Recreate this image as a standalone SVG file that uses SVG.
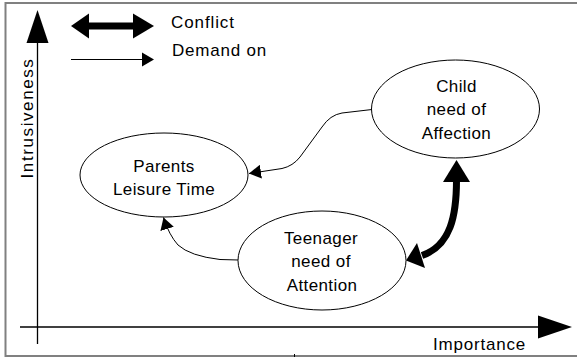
<svg xmlns="http://www.w3.org/2000/svg" width="577" height="359" viewBox="0 0 577 359">
<style>
text{font-family:"Liberation Sans",Arial,sans-serif;font-size:17px;fill:#000;letter-spacing:0.4px}
.lbl{text-anchor:middle}
.node ellipse{fill:#fff;stroke:#000;stroke-width:1}
.thin{fill:none;stroke:#000;stroke-width:1}
.axis{fill:none;stroke:#000;stroke-width:1.3}
</style>
<defs>
<marker id="ah" viewBox="0 0 12 14" refX="12" refY="7" markerWidth="12" markerHeight="14" markerUnits="userSpaceOnUse" orient="auto">
<path d="M0,0 L12,7 L0,14 Z" fill="#000"/>
</marker>
</defs>
<rect x="5.5" y="3" width="580" height="353" fill="#fff" stroke="#808080" stroke-width="2"/>
<line x1="294.5" y1="354" x2="294.5" y2="357" stroke="#000" stroke-width="1"/>
<g id="axes">
<line class="axis" x1="37.5" y1="344" x2="37.5" y2="42"/>
<polygon points="37.5,10 26.5,43 48.5,43" fill="#000"/>
<line class="axis" x1="20" y1="327" x2="539" y2="327"/>
<polygon points="572,327 538,315.5 538,338.5" fill="#000"/>
<text x="33" y="118" class="lbl" transform="rotate(-90 33 118)" style="letter-spacing:1.6px">Intrusiveness</text>
<text x="433" y="350" style="letter-spacing:0.8px">Importance</text>
</g>
<g id="legend">
<rect x="86" y="22.5" width="50" height="7" fill="#000"/>
<polygon points="71,26 89,13.5 89,38.5" fill="#000"/>
<polygon points="154,26 133,13.5 133,38.5" fill="#000"/>
<text x="171" y="28" style="letter-spacing:0.9px">Conflict</text>
<line class="thin" x1="71" y1="59.5" x2="143" y2="59.5"/>
<polygon points="154,59.5 142,52.5 142,66.5" fill="#000"/>
<text x="172" y="56" style="letter-spacing:0.8px">Demand on</text>
</g>
<g id="connectors">
<path class="thin" d="M372,109.5 L342,113 Q330,115 322,127 L300,157 Q293,166 282,168.5 L249,173.5" marker-end="url(#ah)"/>
<path class="thin" d="M238.5,260 L220,259.5 Q190,256 178,245 Q169,235 163.5,217.5" marker-end="url(#ah)"/>
<path d="M456.5,180 C456.5,215 451,245.5 422,255.5" fill="none" stroke="#000" stroke-width="7"/>
<polygon points="456.5,160 443,182 470,182" fill="#000"/>
<polygon points="406,260.5 417,243 425,268" fill="#000"/>
</g>
<g id="parents" class="node">
<ellipse cx="164" cy="175" rx="84" ry="42"/>
<text x="164" y="172" class="lbl">Parents</text>
<text x="164" y="194.5" class="lbl">Leisure Time</text>
</g>
<g id="child" class="node">
<ellipse cx="455.5" cy="109" rx="84" ry="49"/>
<text x="456.5" y="92" class="lbl">Child</text>
<text x="456.5" y="115" class="lbl">need of</text>
<text x="456.5" y="138.5" class="lbl">Affection</text>
</g>
<g id="teen" class="node">
<ellipse cx="322" cy="260.5" rx="84" ry="49.5"/>
<text x="321" y="243.5" class="lbl">Teenager</text>
<text x="321" y="267" class="lbl">need of</text>
<text x="322" y="290.5" class="lbl">Attention</text>
</g>
</svg>
